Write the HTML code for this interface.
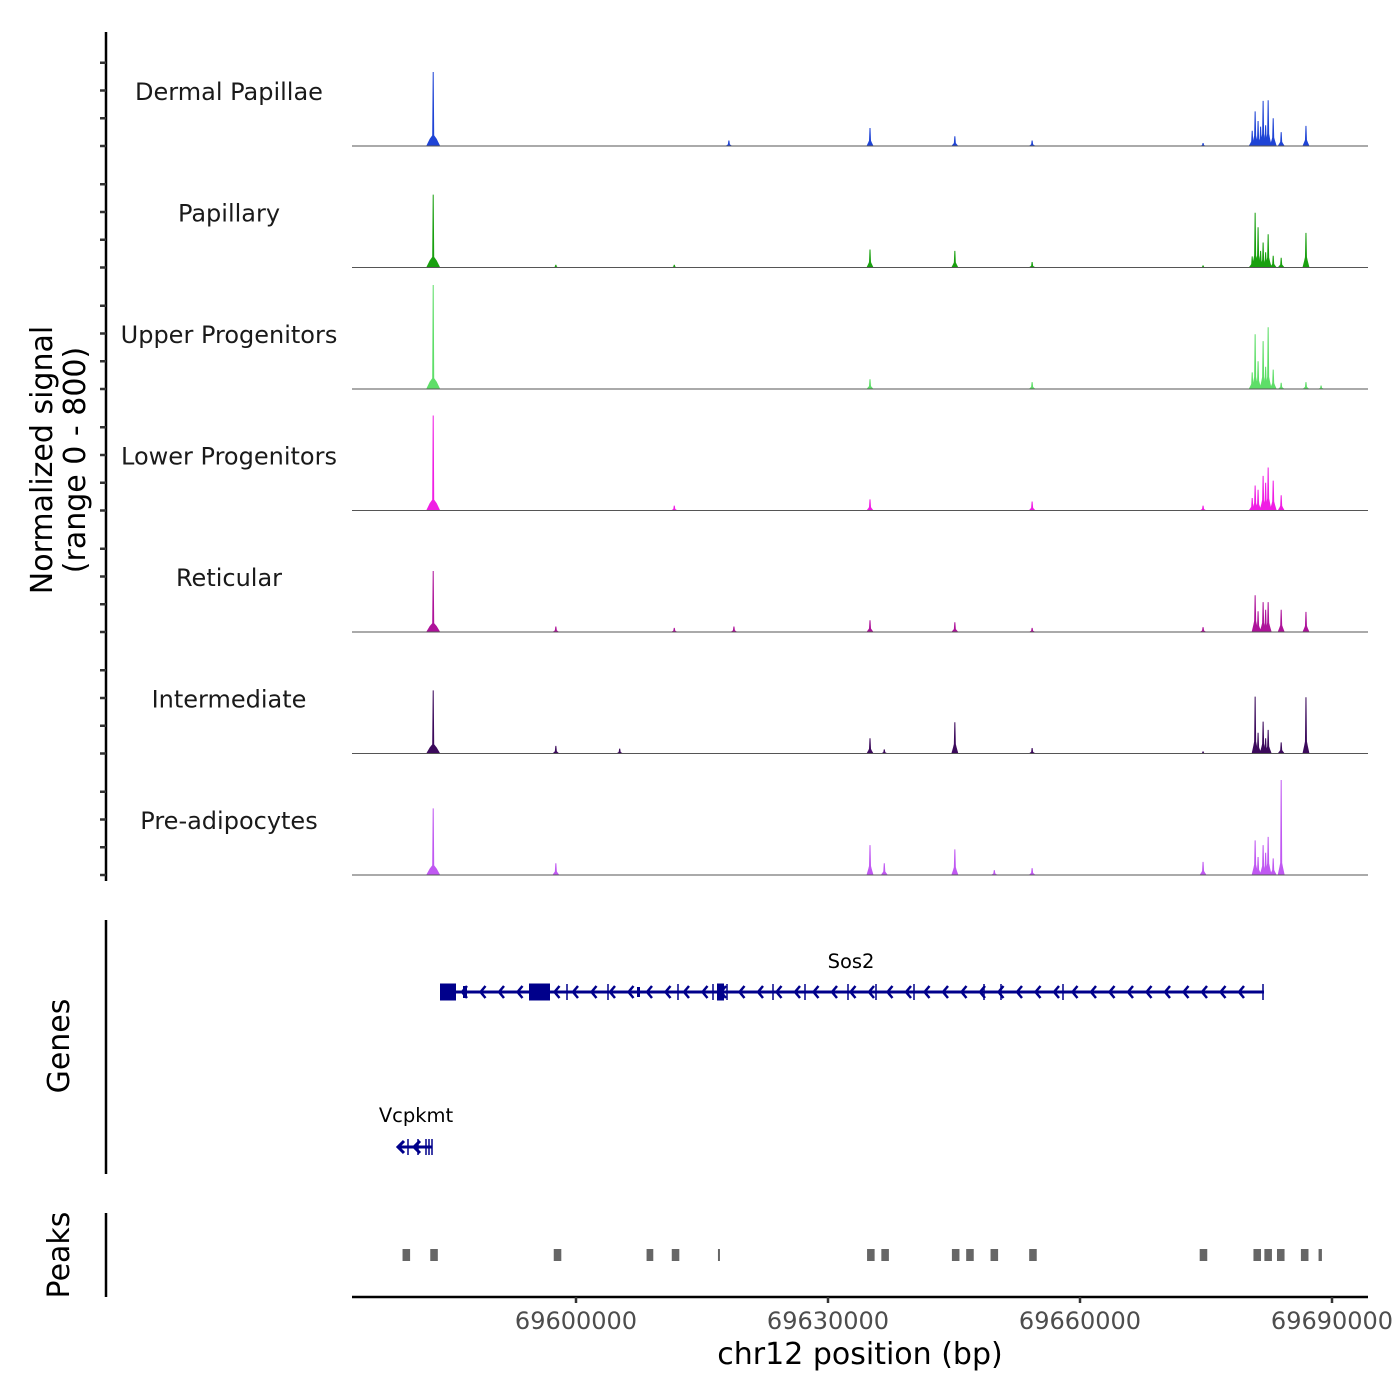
<!DOCTYPE html>
<html><head><meta charset="utf-8"><style>
html,body{margin:0;padding:0;background:#fff;}
svg{display:block;font-family:"DejaVu Sans","Liberation Sans",sans-serif;}
</style></head><body>
<svg id="chart" width="1400" height="1400" viewBox="0 0 1400 1400">
<g id="tracks"></g>
<g id="leftaxis"></g>
<text x="52" y="460" font-size="30" text-anchor="middle" transform="rotate(-90 52 460)">Normalized signal</text>
<text x="85" y="460" font-size="30" text-anchor="middle" transform="rotate(-90 85 460)">(range 0 - 800)</text>
<line x1="106" y1="920" x2="106" y2="1174" stroke="#000" stroke-width="2.5"/>
<text x="69" y="1046" font-size="30" text-anchor="middle" transform="rotate(-90 69 1046)">Genes</text>
<line x1="106" y1="1213" x2="106" y2="1297" stroke="#000" stroke-width="2.5"/>
<text x="69" y="1255" font-size="30" text-anchor="middle" transform="rotate(-90 69 1255)">Peaks</text>
<g id="genes"></g>
<g id="peaks"></g>
<g id="xaxis"></g>
<text x="860" y="1364" font-size="30" text-anchor="middle">chr12 position (bp)</text>
</svg>
<script>
const trackNames = ["Dermal Papillae","Papillary","Upper Progenitors","Lower Progenitors","Reticular","Intermediate","Pre-adipocytes"];
const trackColors = ["#1f44d6","#19a00f","#5ede68","#f01ee4","#ae139a","#3c0a5c","#c058f2"];
const xTicks = [69600000,69630000,69660000,69690000];
const tickLabels = ["69600000","69630000","69660000","69690000"];
const yTicks = [0,200,400,600];
const t1Pos = [69583000,69618200,69635000,69645100,69654300,69674650,69680500,69680850,69681200,69681500,69681800,69682100,69682400,69683000,69683950,69686900];
const t1Val = [533,40,130,70,40,22,110,250,180,140,325,150,330,200,100,145];
const t2Pos = [69583000,69597600,69611700,69635000,69645100,69654300,69674650,69680500,69680850,69681200,69681500,69681800,69682100,69682400,69683000,69683950,69686900];
const t2Val = [525,20,20,130,120,40,15,80,395,290,120,180,110,240,85,70,250];
const t3Pos = [69583000,69635000,69654300,69680500,69680850,69681200,69681800,69682100,69682400,69683000,69683950,69686900,69688700];
const t3Val = [750,70,50,120,395,200,345,160,445,140,45,50,25];
const t4Pos = [69583000,69611700,69635000,69654300,69674650,69680500,69680850,69681200,69681800,69682100,69682400,69683000,69683950];
const t4Val = [685,35,80,65,35,90,180,150,250,200,310,215,110];
const t5Pos = [69583000,69597600,69611700,69618800,69635000,69645100,69654300,69674650,69680850,69681200,69681800,69682100,69682400,69683950,69686900];
const t5Val = [440,40,30,40,85,70,30,35,265,150,215,160,215,160,145];
const t6Pos = [69583000,69597600,69605200,69635000,69636700,69645100,69654300,69674650,69680850,69681200,69681800,69682100,69682400,69683950,69686900];
const t6Val = [455,55,35,110,30,225,40,15,410,150,230,110,170,80,405];
const t7Pos = [69583000,69597600,69635000,69636700,69645100,69649800,69654300,69674650,69680850,69681200,69681800,69682100,69682400,69683000,69683950];
const t7Val = [480,85,215,85,185,35,50,95,250,130,215,160,275,120,685];
const trackPos = [t1Pos,t2Pos,t3Pos,t4Pos,t5Pos,t6Pos,t7Pos];
const trackVal = [t1Val,t2Val,t3Val,t4Val,t5Val,t6Val,t7Val];
const peakStarts = [69579350,69582650,69597350,69608400,69611400,69616900,69634650,69636350,69644750,69646450,69649350,69653950,69674250,69680650,69681950,69683450,69686300,69688400];
const peakEnds = [69580250,69583550,69598250,69609200,69612300,69617100,69635550,69637250,69645650,69647350,69650250,69654850,69675150,69681550,69682850,69684350,69687200,69688800];

const NS="http://www.w3.org/2000/svg";
const X0=352, X1=1368;
const xs = bp => 576 + (bp-69600000)*(252/30000);
const baselines=[146,267.5,389,510.5,632,753.5,875];
const ys = (v,b) => b - v*(111/800);
function mk(tag,attrs,parent){const e=document.createElementNS(NS,tag);for(const k in attrs)e.setAttribute(k,attrs[k]);parent.appendChild(e);return e;}

const tracks=document.getElementById('tracks');
const leftaxis=document.getElementById('leftaxis');
const ax=mk('line',{x1:106,y1:32,x2:106,y2:881,stroke:'#000','stroke-width':2.5},leftaxis);


trackNames.forEach((name,i)=>{
  const b=baselines[i];
  const g=mk('g',{},tracks);
  
  
  const lbl=mk('text',{x:229,y:b-46,'font-size':24,'text-anchor':'middle',fill:'#1a1a1a'},g);
  lbl.textContent=name;
  
  
  trackPos[i].forEach((p,j)=>{
    const x=xs(p), v=trackVal[i][j], top=ys(v,b);
    const w = j===0?7:3.5;
    const sh = j===0?Math.min(9,(b-top)*0.12):Math.min(10,(b-top)*0.25);
    const pts=[[x-w,b],[x-w*0.5,b-sh*0.8],[x-1,b-sh*1.2],[x-0.5,top],[x+0.5,top],[x+1,b-sh*1.2],[x+w*0.5,b-sh*0.8],[x+w,b]].map(q=>q.join(',')).join(' ');
    const pk=mk('polygon',{points:pts,fill:trackColors[i]},g);
    
    
  });
  const bl=mk('line',{x1:X0,y1:b,x2:X1,y2:b,stroke:'#555','stroke-width':1},g);
  
  
  yTicks.forEach(t=>{
    const y=ys(t,b);
    const tk=mk('line',{x1:100,y1:y,x2:106,y2:y,stroke:'#333','stroke-width':2.5},leftaxis);
    
    
  });
});

// genes
const genes=document.getElementById('genes');
const col='#00008b';
function gline(a){const e=mk('line',a,genes);return e;}
gline({x1:441,y1:992,x2:1264,y2:992,stroke:col,'stroke-width':3});
[[440,456,17],[529,550,17],[717,724,17],[637,640,10],[463,467,12]].forEach(r=>{
  const e=mk('rect',{x:r[0],y:992-r[2]/2,width:r[1]-r[0],height:r[2],fill:col},genes);
  
});
[567,608,678,713,727,773,805,848,876,914,984,1001,1063,1263].forEach(x=>gline({x1:x,y1:984,x2:x,y2:1000,stroke:col,'stroke-width':1.5}));
for(let x=462;x<1250;x+=18.5){
  const e=mk('polyline',{points:`${x+5},986 ${x},992 ${x+5},998`,fill:'none',stroke:col,'stroke-width':2.5},genes);
  
}
const s2=mk('text',{x:851,y:968,'font-size':19.5,'text-anchor':'middle'},genes);s2.textContent='Sos2';

gline({x1:398,y1:1147,x2:432,y2:1147,stroke:col,'stroke-width':3});
[408,418,426,429,432].forEach(x=>gline({x1:x,y1:1139,x2:x,y2:1155,stroke:col,'stroke-width':1.5}));
[[398,'a'],[414,'b']].forEach(a=>{const e=mk('polyline',{points:`${a[0]+6},1141 ${a[0]},1147 ${a[0]+6},1153`,fill:'none',stroke:col,'stroke-width':3},genes);
});
const vc=mk('text',{x:416,y:1122,'font-size':19.5,'text-anchor':'middle'},genes);vc.textContent='Vcpkmt';


// peaks
const peaks=document.getElementById('peaks');
peakStarts.forEach((s,i)=>{
  const x=xs(s), w=Math.max(2,xs(peakEnds[i])-x);
  const r=mk('rect',{x:x,y:1249,width:w,height:12,fill:'#666'},peaks);
  
  
});

// x axis
const xa=document.getElementById('xaxis');
const axl=mk('line',{x1:X0,y1:1297,x2:X1,y2:1297,stroke:'#000','stroke-width':2.5},xa);

xTicks.forEach((t,i)=>{
  const x=xs(t);
  const tk=mk('line',{x1:x,y1:1297,x2:x,y2:1303,stroke:'#333','stroke-width':2.5},xa);
  
  const tl=mk('text',{x:x,y:1329,'font-size':24,'text-anchor':'middle',fill:'#4d4d4d'},xa);
  tl.textContent=tickLabels[i];
  
});
</script>
</body></html>
